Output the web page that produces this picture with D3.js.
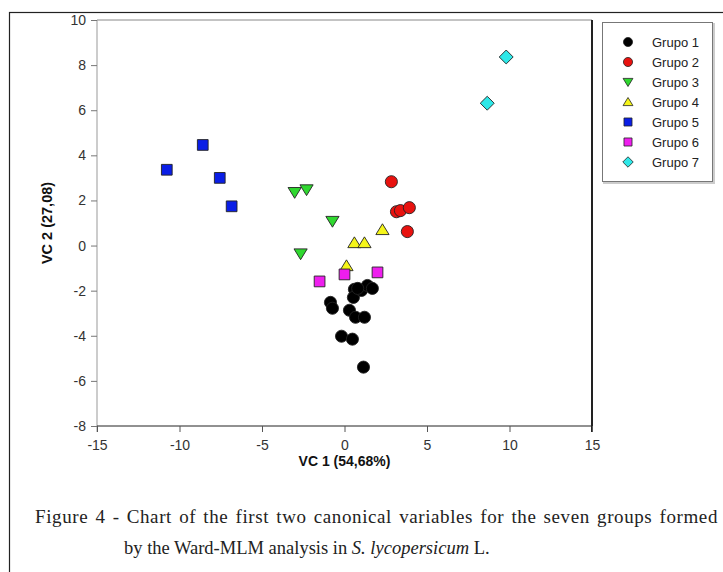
<!DOCTYPE html>
<html lang="en">
<head>
<meta charset="utf-8">
<title>VC1 x VC2</title>
<script src="https://cdn.jsdelivr.net/npm/d3@7"></script>
<style>
  body { margin: 0; background: #fff; }
  svg text { font-family: "Liberation Sans", Arial, sans-serif; }
  .tick text { font-size: 14px; fill: #333; }
</style>
</head>
<body>
<div id="vis"></div>
<script>
// group names, colours and symbols
var groups = ["Grupo 1", "Grupo 2", "Grupo 3", "Grupo 4", "Grupo 5", "Grupo 6", "Grupo 7"];
var colors = ["#000000", "#e8120f", "#2fd82f", "#f5f51a", "#0a1ee6", "#ee1eee", "#2ee8e8"];
var shapes = ["circle", "circle", "triDown", "triUp", "square", "square", "diamond"];

// scores: [VC1, VC2]
var g1 = [[0.60, -1.94], [0.54, -2.30], [1.03, -1.99], [1.39, -1.77], [1.69, -1.90],
          [-0.85, -2.52], [-0.73, -2.78], [0.30, -2.87], [0.67, -3.18], [1.21, -3.18],
          [-0.18, -4.02], [0.48, -4.15], [1.15, -5.39], [0.80, -1.90]];
var g2 = [[2.84, 2.83], [3.15, 1.50], [3.39, 1.55], [3.93, 1.68], [3.81, 0.62]];
var g3 = [[-3.02, 2.36], [-2.30, 2.48], [-0.73, 1.08], [-2.66, -0.36]];
var g4 = [[2.30, 0.70], [0.60, 0.12], [1.21, 0.12], [0.12, -0.90]];
var g5 = [[-10.77, 3.36], [-8.59, 4.46], [-7.56, 3.00], [-6.84, 1.74]];
var g6 = [[-1.51, -1.59], [0.00, -1.28], [2.00, -1.19]];
var g7 = [[9.80, 8.36], [8.65, 6.31]];
var series = [g1, g2, g3, g4, g5, g6, g7];

var xTicks = [-15, -10, -5, 0, 5, 10, 15];
var yTicks = [-8, -6, -4, -2, 0, 2, 4, 6, 8, 10];

var W = 723, H = 572;
var mLeft = 97, mRight = 592, mTop = 20, mBottom = 426;

var svg = d3.select("#vis").append("svg").attr("width", W).attr("height", H);

// outer frame of the figure
svg.append("rect").attr("x", 9.5).attr("y", 12.5).attr("width", 740).attr("height", 600)
  .attr("fill", "none").attr("stroke", "#222").attr("stroke-width", 1.2);

var x = d3.scaleLinear().domain([-15, 15]).range([mLeft, mRight]);
var y = d3.scaleLinear().domain([-8, 10]).range([mBottom, mTop]);
var fmt = function(d) { return String(d); };

// plot frame: gray top, dark right
svg.append("line").attr("x1", mLeft).attr("x2", mRight).attr("y1", mTop).attr("y2", mTop)
  .attr("stroke", "#888").attr("stroke-width", 1);
svg.append("line").attr("x1", mRight).attr("x2", mRight).attr("y1", mTop).attr("y2", mBottom + 6)
  .attr("stroke", "#222").attr("stroke-width", 2);

var yAxis = svg.append("g").attr("transform", "translate(" + mLeft + ",0)")
  .call(d3.axisLeft(y).tickValues(yTicks).tickFormat(fmt).tickSize(6).tickPadding(5));
yAxis.select(".domain").attr("stroke", "#999").attr("d", "M0," + mTop + "V" + (mBottom + 6));
yAxis.selectAll(".tick line").attr("stroke", "#777");

var xAxis = svg.append("g").attr("transform", "translate(0," + mBottom + ")")
  .call(d3.axisBottom(x).tickValues(xTicks).tickFormat(fmt).tickSize(6).tickPadding(8));
xAxis.select(".domain").attr("stroke", "#222").attr("d", "M" + mLeft + ",0H" + mRight);
xAxis.selectAll(".tick line").attr("stroke", "#555");

// axis titles
svg.append("text").attr("x", (mLeft + mRight) / 2).attr("y", 466).attr("text-anchor", "middle")
  .attr("font-size", 14).attr("font-weight", "bold").attr("fill", "#111").text("VC 1 (54,68%)");
svg.append("text").attr("transform", "translate(52," + ((mTop + mBottom) / 2) + ") rotate(-90)")
  .attr("text-anchor", "middle").attr("font-size", 14.5).attr("font-weight", "bold")
  .attr("fill", "#111").text("VC 2 (27,08)");

function symbolPath(shape, s) {
  if (shape == "circle") return d3.symbol().type(d3.symbolCircle).size(s * s * 0.8)();
  if (shape == "square") return d3.symbol().type(d3.symbolSquare).size(s * s * 0.8)();
  if (shape == "diamond") {
    var r = s * 0.58;
    return "M0," + (-r) + "L" + r + ",0L0," + r + "L" + (-r) + ",0Z";
  }
  var h = s * 0.5;
  if (shape == "triUp") return "M0," + (-h) + "L" + (h * 1.1) + "," + (h * 0.8) + "L" + (-h * 1.1) + "," + (h * 0.8) + "Z";
  return "M0," + h + "L" + (h * 1.1) + "," + (-h * 0.8) + "L" + (-h * 1.1) + "," + (-h * 0.8) + "Z";
}

series.forEach(function(pts, i) {
  svg.append("g").selectAll("path").data(pts).enter().append("path")
    .attr("d", symbolPath(shapes[i], 12))
    .attr("transform", function(d) { return "translate(" + x(d[0]) + "," + y(d[1]) + ")"; })
    .attr("fill", colors[i]).attr("stroke", "#222").attr("stroke-width", 0.9);
});

// legend
var lg = svg.append("g");
lg.append("rect").attr("x", 604).attr("y", 24).attr("width", 110).attr("height", 159)
  .attr("fill", "none").attr("stroke", "#ccc").attr("stroke-width", 2);
lg.append("rect").attr("x", 602.5).attr("y", 22.5).attr("width", 110).attr("height", 159)
  .attr("fill", "#fff").attr("stroke", "#777").attr("stroke-width", 1);
groups.forEach(function(g, i) {
  var yy = 42 + i * 20;
  lg.append("path").attr("d", symbolPath(shapes[i], 9))
    .attr("transform", "translate(628," + yy + ")")
    .attr("fill", colors[i]).attr("stroke", "#222").attr("stroke-width", 0.8);
  lg.append("text").attr("x", 652).attr("y", yy + 4.5).attr("font-size", 13)
    .attr("fill", "#222").text(g);
});

// caption (first line justified to the frame width)
var serif = "Liberation Serif, Times New Roman, serif";
var l1 = svg.append("text").attr("x", 35).attr("y", 523).attr("font-size", 19)
  .attr("fill", "#222").style("font-family", serif).style("letter-spacing", "0.6px")
  .text("Figure 4 - Chart of the first two canonical variables for the seven groups formed");
var len = l1.node().getComputedTextLength();
var nSp = l1.text().split(" ").length - 1;
l1.style("word-spacing", Math.max(0, (683 - len) / nSp) + "px");

var l2 = svg.append("text").attr("x", 124).attr("y", 554).attr("font-size", 18.5).attr("fill", "#222")
  .style("font-family", serif);
l2.append("tspan").text("by the Ward-MLM analysis in ");
l2.append("tspan").attr("font-style", "italic").text("S. lycopersicum");
l2.append("tspan").text(" L.");
</script>
</body>
</html>
